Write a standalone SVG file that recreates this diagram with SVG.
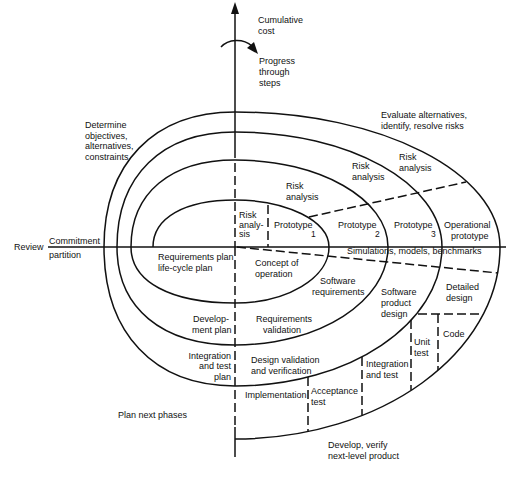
<svg xmlns="http://www.w3.org/2000/svg" width="522" height="480" viewBox="0 0 522 480">
<style>
.ln{fill:none;stroke:#111;stroke-width:1.5}
.ds{fill:none;stroke:#111;stroke-width:1.5;stroke-dasharray:9 4}
.t{font-family:"Liberation Sans",Arial,sans-serif;font-size:9px;fill:#111}
.s{font-family:"Liberation Sans",Arial,sans-serif;font-size:8.5px;fill:#111}
</style>
<rect width="522" height="480" fill="#fff"/>
<g id="connectors">
<path class="ln" d="M235,158 V8"/>
<polygon points="235,2 231,14 239,14" fill="#111"/>
<path class="ds" d="M235,163 V247" stroke-dasharray="16 5"/>
<path class="ds" d="M235,247 V427" stroke-dasharray="14 5"/>
<path class="ln" d="M235,427 V457"/>
<path class="ln" d="M48,247 H506"/>
<path class="ln" d="M221,47 C228,39 243,38 252,46"/>
<polygon points="258,54 247,48 254,42" fill="#111"/>
<path id="spiral" class="ln" d="M153,247 C153,217.9 184.2,200 235,200 C286.9,200 329,221.1 329,247 C329,277.9 286.9,303 235,303 C170.5,303 131,281.7 131,247 C131,193.1 170.5,160 235,160 C319.5,160 388,199 388,247 C388,301.1 319.5,345 235,345 C161.8,345 117,307.8 117,247 C117,175.7 161.8,132 235,132 C349.3,132 442,183.5 442,247 C442,323.7 349.3,386 235,386 C153.8,386 104,333.2 104,247 C104,163.3 153.8,112 235,112 C381.3,112 500,172.5 500,247 C500,353 381.3,439 235,439"/>
<path class="ds" d="M268,205 V247"/>
<path class="ds" d="M309,217 L466,182"/>
<path class="ds" d="M237,247 L498,273"/>
<path class="ds" d="M418,314 H483"/>
<path class="ds" d="M438,314 V370"/>
<path class="ds" d="M411,320 V390"/>
<path class="ds" d="M362,357 V415"/>
<path class="ds" d="M308,377 V432"/>
</g>
<g id="axis-labels">
<text class="t" x="258" y="23">Cumulative</text>
<text class="t" x="258" y="34">cost</text>
<text class="t" x="259" y="64">Progress</text>
<text class="t" x="259" y="75">through</text>
<text class="t" x="259" y="86">steps</text>
<text class="t" x="14" y="250">Review</text>
<text class="t" x="49" y="244">Commitment</text>
<text class="t" x="49" y="258">partition</text>
</g>
<g id="quadrant-labels">
<text class="t" x="85" y="128">Determine</text>
<text class="t" x="85" y="139">objectives,</text>
<text class="t" x="85" y="149">alternatives,</text>
<text class="t" x="85" y="160">constraints</text>
<text class="t" x="381" y="118">Evaluate alternatives,</text>
<text class="t" x="381" y="129">identify, resolve risks</text>
<text class="t" x="118" y="418">Plan next phases</text>
<text class="t" x="328" y="448">Develop, verify</text>
<text class="t" x="328" y="459">next-level product</text>
</g>
<g id="risk-analysis">
<text class="t" x="399" y="160">Risk</text>
<text class="t" x="399" y="171">analysis</text>
<text class="t" x="352" y="169">Risk</text>
<text class="t" x="352" y="180">analysis</text>
<text class="t" x="286" y="189">Risk</text>
<text class="t" x="286" y="200">analysis</text>
<text class="t" x="239" y="218">Risk</text>
<text class="t" x="239" y="228">analy-</text>
<text class="t" x="239" y="237">sis</text>
</g>
<g id="prototypes">
<text class="t" x="274" y="228">Prototype</text><text class="s" x="311" y="237">1</text>
<text class="t" x="338" y="228">Prototype</text><text class="s" x="375" y="237">2</text>
<text class="t" x="394" y="228">Prototype</text><text class="s" x="431" y="237">3</text>
<text class="t" x="444" y="228">Operational</text>
<text class="t" x="451" y="239">prototype</text>
<text class="t" x="347" y="254">Simulations, models, benchmarks</text>
</g>
<g id="development">
<text class="t" x="255" y="266">Concept of</text>
<text class="t" x="255" y="277">operation</text>
<text class="t" x="158" y="260">Requirements plan</text>
<text class="t" x="158" y="271">life-cycle plan</text>
<text class="t" x="320" y="284">Software</text>
<text class="t" x="312" y="295">requirements</text>
<text class="t" x="381" y="295">Software</text>
<text class="t" x="381" y="306">product</text>
<text class="t" x="381" y="317">design</text>
<text class="t" x="446" y="290">Detailed</text>
<text class="t" x="446" y="301">design</text>
<text class="t" x="443" y="337">Code</text>
<text class="t" x="414" y="345">Unit</text>
<text class="t" x="414" y="356">test</text>
<text class="t" x="366" y="367">Integration</text>
<text class="t" x="366" y="378">and test</text>
<text class="t" x="311" y="394">Acceptance</text>
<text class="t" x="311" y="405">test</text>
<text class="t" x="245" y="398">Implementation</text>
<text class="t" x="251" y="363">Design validation</text>
<text class="t" x="251" y="374">and verification</text>
<text class="t" x="256" y="322">Requirements</text>
<text class="t" x="263" y="333">validation</text>
<text class="t" x="193" y="322">Develop-</text>
<text class="t" x="192" y="333">ment plan</text>
<text class="t" x="231" y="359" text-anchor="end">Integration</text>
<text class="t" x="231" y="369" text-anchor="end">and test</text>
<text class="t" x="231" y="380" text-anchor="end">plan</text>
</g>
</svg>
